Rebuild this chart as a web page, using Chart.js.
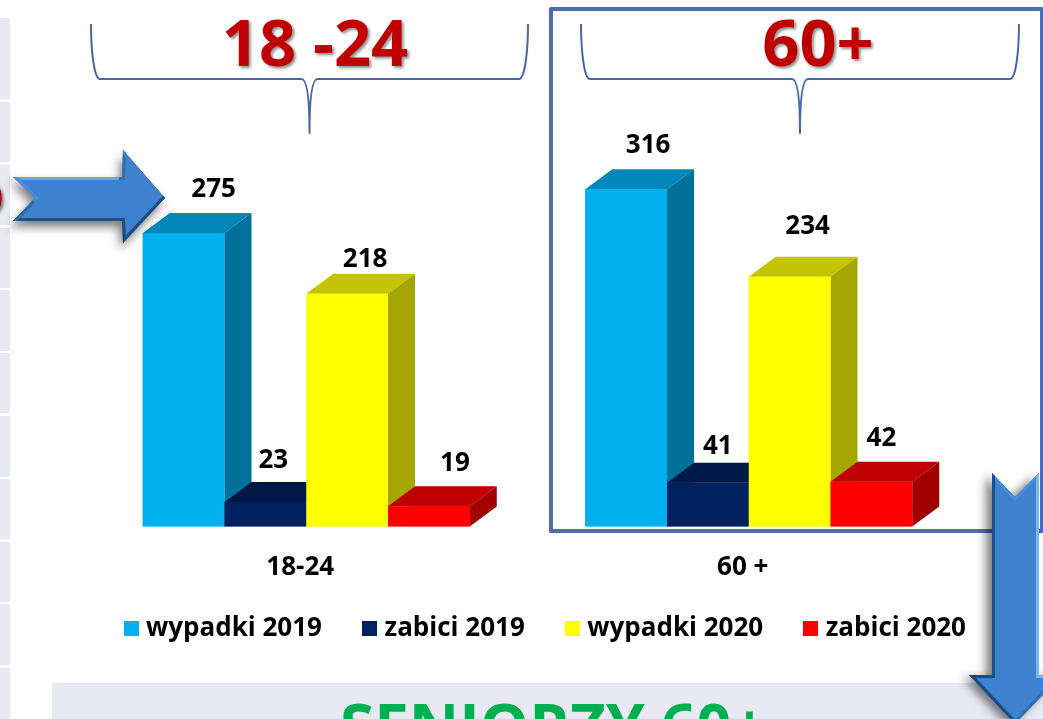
<!DOCTYPE html>
<html><head><meta charset="utf-8">
<script src="https://cdn.jsdelivr.net/npm/chart.js@4"></script>
<style>html,body{margin:0;padding:0;background:#fff;overflow:hidden}canvas{display:block}</style>
</head><body><canvas id="c" width="1043" height="719"></canvas>
<script>
const categories = ['18-24', '60 +'];
const seriesNames = ['wypadki 2019', 'zabici 2019', 'wypadki 2020', 'zabici 2020'];
const wypadki2019 = [275, 316];
const zabici2019 = [23, 41];
const wypadki2020 = [218, 234];
const zabici2020 = [19, 42];
const frontColors = ['#00b0f0', '#002060', '#ffff00', '#ff0000'];
const sideColors = ['#00719b', '#001a4c', '#a6a600', '#a00000'];
const topColors = ['#0087b8', '#001848', '#c4c400', '#c00000'];
const groupTitles = ['18 -24', '60+'];
const footerTitle = 'SENIORZY 60+';
// label offsets from the bar's front-face centre / top, per series and group
const labelDx = [[30, 22], [8, 10], [18, 18], [26, 10]];
const labelDy = [[43, 44], [41, 36], [34, 50], [43, 43]];

const FONT = '"Open Sans"';
const DEPTH_X = 27, DEPTH_Y = 20;
const INK = '#000';

function swatch(color) {
  const c = document.createElement('canvas');
  c.width = 15; c.height = 15;
  const x = c.getContext('2d');
  x.fillStyle = color; x.fillRect(0, 0, 15, 15);
  return c;
}

function poly(ctx, pts) {
  ctx.beginPath();
  pts.forEach((p, i) => i ? ctx.lineTo(p[0], p[1]) : ctx.moveTo(p[0], p[1]));
  ctx.closePath();
}

function brace(ctx, l, mid, r) {
  ctx.beginPath();
  ctx.moveTo(l, 24);
  ctx.bezierCurveTo(l, 50, l + 3, 79, l + 9, 79);
  ctx.lineTo(mid - 8, 79);
  ctx.bezierCurveTo(mid - 2, 79, mid, 100, mid, 133);
  ctx.bezierCurveTo(mid, 100, mid + 2, 79, mid + 8, 79);
  ctx.lineTo(r - 9, 79);
  ctx.bezierCurveTo(r - 3, 79, r, 50, r, 24);
  ctx.strokeStyle = '#4a66a8';
  ctx.lineWidth = 2;
  ctx.stroke();
}

function arrow(ctx, pts, edges, shadow) {
  ctx.save();
  ctx.shadowColor = 'rgba(0,0,0,0.5)';
  ctx.shadowBlur = 10;
  ctx.shadowOffsetX = shadow[0];
  ctx.shadowOffsetY = shadow[1];
  poly(ctx, pts);
  ctx.fillStyle = '#3e82cf';
  ctx.fill();
  ctx.restore();
  ctx.save();
  poly(ctx, pts);
  ctx.clip();
  ctx.lineWidth = 6;
  ctx.lineCap = 'square';
  pts.forEach((p, i) => {
    const q = pts[(i + 1) % pts.length];
    ctx.beginPath();
    ctx.moveTo(p[0], p[1]);
    ctx.lineTo(q[0], q[1]);
    ctx.strokeStyle = edges[i];
    ctx.stroke();
  });
  ctx.restore();
}

const backdrop = {
  id: 'backdrop',
  beforeDraw(chart) {
    const ctx = chart.ctx;
    ctx.save();
    ctx.fillStyle = '#fff';
    ctx.fillRect(0, 0, chart.width, chart.height);
    ctx.fillStyle = '#e8e9f2';
    [[18, 99], [102, 162], [165, 225], [228, 288], [290, 351], [353, 413], [416, 477], [479, 539], [542, 602], [604, 665], [668, 719]]
      .forEach(s => ctx.fillRect(0, s[0], 10, s[1] - s[0]));
    ctx.fillRect(52, 683, 991, 36);
    ctx.fillStyle = '#00b050';
    ctx.font = 'bold 62px ' + FONT;
    ctx.textBaseline = 'alphabetic';
    ctx.textAlign = 'left';
    ctx.fillText(footerTitle, 340, 749);

    ctx.strokeStyle = '#4f6cb0';
    ctx.lineWidth = 4;
    ctx.lineJoin = 'round';
    ctx.strokeRect(551, 9, 491, 522);

    brace(ctx, 91, 309.5, 528);
    brace(ctx, 581, 800, 1019);

    ctx.save();
    ctx.fillStyle = '#c00000';
    ctx.shadowColor = 'rgba(0,0,0,0.45)';
    ctx.shadowBlur = 3;
    ctx.shadowOffsetX = 2;
    ctx.shadowOffsetY = 2;
    ctx.font = 'bold 65px ' + FONT;
    ctx.textAlign = 'center';
    ctx.fillText(groupTitles[0], 315, 66);
    ctx.fillText(groupTitles[1], 818, 66);
    ctx.font = 'bold 40px ' + FONT;
    ctx.textAlign = 'right';
    ctx.fillText('0', 3, 212);
    ctx.restore();
    ctx.restore();
  }
};

const bars3d = {
  id: 'bars3d',
  afterDatasetsDraw(chart) {
    const ctx = chart.ctx;
    chart.data.datasets.forEach((ds, i) => {
      chart.getDatasetMeta(i).data.forEach(el => {
        const l = el.x - el.width / 2, r = el.x + el.width / 2, t = el.y, b = el.base;
        ctx.fillStyle = topColors[i];
        poly(ctx, [[l, t], [l + DEPTH_X, t - DEPTH_Y], [r + DEPTH_X, t - DEPTH_Y], [r, t]]);
        ctx.fill();
        ctx.fillStyle = sideColors[i];
        poly(ctx, [[r, t], [r + DEPTH_X, t - DEPTH_Y], [r + DEPTH_X, b - DEPTH_Y], [r, b]]);
        ctx.fill();
        el.draw(ctx);
      });
    });
  },
  afterDraw(chart) {
    const ctx = chart.ctx;
    ctx.save();
    ctx.fillStyle = INK;
    ctx.font = 'bold 26px ' + FONT;
    ctx.textAlign = 'center';
    ctx.textBaseline = 'middle';
    chart.data.datasets.forEach((ds, i) => {
      chart.getDatasetMeta(i).data.forEach((el, j) => {
        ctx.fillText(String(ds.data[j]), el.x + labelDx[i][j], el.y - labelDy[i][j]);
      });
    });
    ctx.restore();
    arrow(ctx,
      [[13, 177], [122, 177], [123, 150], [165, 198], [123, 243], [122, 221], [13, 221], [35, 198]],
      ['#68a8ea', '#2f6fb5', '#3f7fc4', '#1a4a80', '#1a4a80', '#1d4f88', '#2a66aa', '#4a8ed6'],
      [-3, 6]);
    arrow(ctx,
      [[992, 473], [1015, 497], [1039, 473], [1039, 675], [1062, 675], [1015, 724], [969, 675], [992, 675]],
      ['#4a8ed6', '#4a8ed6', '#7ab8f2', '#7ab8f2', '#2f6fb5', '#1a4a80', '#1a4a80', '#1d4f88'],
      [-6, 3]);
  }
};

const legendShift = {
  id: 'legendShift',
  afterLayout(chart) {
    chart.legend.left += 26;
    chart.legend.right += 26;
    chart.legend.top -= 11.5;
    chart.legend.bottom -= 11.5;
  }
};

const datasetSeries = [wypadki2019, zabici2019, wypadki2020, zabici2020];

new Chart(document.getElementById('c'), {
  type: 'bar',
  data: {
    labels: categories,
    datasets: datasetSeries.map((values, i) => ({
      label: seriesNames[i],
      data: values,
      backgroundColor: frontColors[i],
      borderWidth: 0,
      categoryPercentage: 0.739,
      barPercentage: 1
    }))
  },
  plugins: [backdrop, bars3d, legendShift],
  options: {
    responsive: false,
    animation: false,
    events: [],
    layout: { padding: { left: 5, right: 5, top: 99.6, bottom: 56 } },
    scales: {
      y: {
        display: true, min: 0, max: 400,
        grid: { display: false, drawTicks: false },
        border: { display: false },
        ticks: { display: false },
        afterFit(s) { s.width = 80; }
      },
      y2: {
        display: true, position: 'right', min: 0, max: 400,
        grid: { display: false, drawTicks: false },
        border: { display: false },
        ticks: { display: false },
        afterFit(s) { s.width = 68; }
      },
      x: {
        grid: { display: false, drawTicks: false },
        border: { display: false },
        afterFit(s) { s.height = 55; },
        ticks: {
          color: INK,
          padding: 25,
          labelOffset: -6,
          maxRotation: 0,
          font: { family: FONT, size: 26, weight: 'bold' }
        }
      }
    },
    plugins: {
      tooltip: { enabled: false },
      title: { display: false },
      legend: {
        display: true,
        position: 'bottom',
        labels: {
          usePointStyle: true,
          pointStyleWidth: 4,
          padding: 45.5,
          color: INK,
          font: { family: FONT, size: 26, weight: 'bold' },
          generateLabels: chart => chart.data.datasets.map((d, i) => ({
            text: d.label,
            pointStyle: swatch(frontColors[i]),
            fontColor: INK,
            lineWidth: 0,
            hidden: false,
            datasetIndex: i
          }))
        }
      }
    }
  }
});
</script></body></html>
